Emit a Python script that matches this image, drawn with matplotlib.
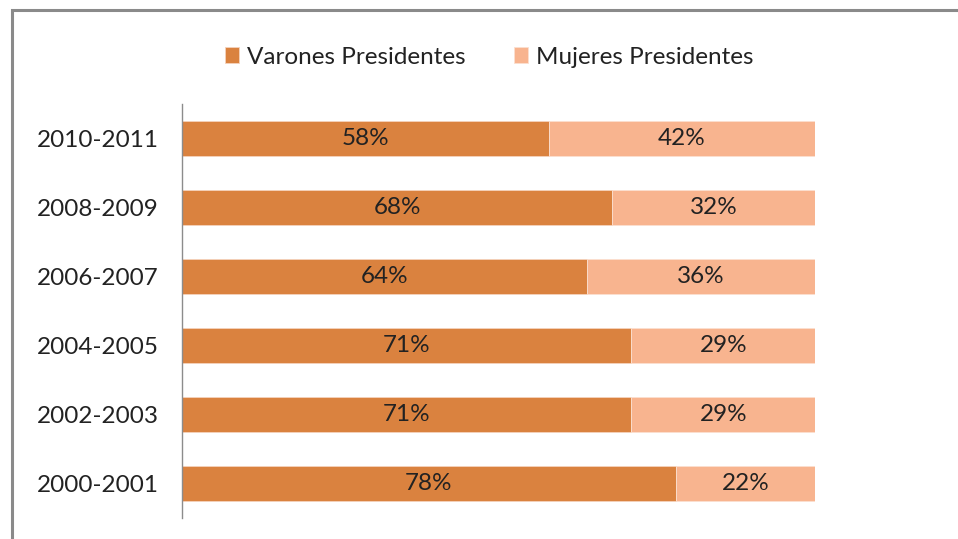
import matplotlib.pyplot as plt
from matplotlib.patches import Rectangle

periodos = ['2000-2001', '2002-2003', '2004-2005', '2006-2007', '2008-2009', '2010-2011']
varones = [78, 71, 71, 64, 68, 58]
mujeres = [22, 29, 29, 36, 32, 42]

color_varones = '#DA823F'
color_mujeres = '#F8B48F'

plt.rcParams['font.family'] = ['Lato', 'DejaVu Sans']

fig = plt.figure(figsize=(9.58, 5.39), dpi=100)
W, H = 958, 539
ax = fig.add_axes([182 / W, 1 - 518 / H, (815 - 182) / W, (518 - 104) / H])

y = range(len(periodos))
ax.barh(y, varones, height=0.51, color=color_varones, edgecolor='#F5D3BC', linewidth=0.6,
        label='Varones Presidentes')
ax.barh(y, mujeres, left=varones, height=0.51, color=color_mujeres, edgecolor='#FBE0D0',
        linewidth=0.6, label='Mujeres Presidentes')

for i in y:
    ax.text(varones[i] / 2, i, f'{varones[i]}%', ha='center', va='center',
            fontsize=17.5, color='#222222')
    ax.text(varones[i] + mujeres[i] / 2, i, f'{mujeres[i]}%', ha='center', va='center',
            fontsize=17.5, color='#222222')

ax.set_xlim(0, 100)
ax.set_ylim(-0.5, len(periodos) - 0.5)
ax.set_yticks(list(y))
ax.set_yticklabels(periodos, fontsize=17.5, color='#222222')
ax.tick_params(axis='y', length=0, pad=17)
ax.set_xticks([])
for s in ['top', 'right', 'bottom']:
    ax.spines[s].set_visible(False)
ax.spines['left'].set_color('#8C8C8C')
ax.spines['left'].set_linewidth(1.0)

leg = fig.legend(loc='center', bbox_to_anchor=(489 / W, 1 - 57 / H), ncol=2, frameon=False,
                 fontsize=17.5, handlelength=0.6, handleheight=0.6, handletextpad=0.3,
                 columnspacing=2.0)
for t in leg.get_texts():
    t.set_color('#222222')

# marco del grafico
fig.patches.append(Rectangle((11.5 / W, -0.1), 1.2, 1 - 10.5 / H + 0.1,
                             transform=fig.transFigure, fill=False,
                             edgecolor='#8A8A8A', linewidth=2.2))

fig.savefig('out.png', dpi=100)
